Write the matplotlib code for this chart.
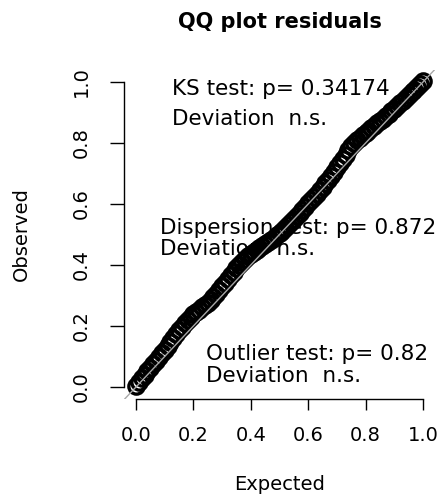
import matplotlib
matplotlib.use("Agg")
import matplotlib.pyplot as plt

plt.rcParams['font.family'] = ['DejaVu Sans']

# Expected uniform quantiles and observed scaled residual quantiles
expected = [i / 100 for i in range(101)]
observed = [
    0.004, 0.016, 0.028, 0.039, 0.051, 0.062, 0.074, 0.086, 0.098, 0.110,
    0.122, 0.135, 0.148, 0.161, 0.174, 0.186, 0.198, 0.210, 0.221, 0.230,
    0.238, 0.246, 0.254, 0.261, 0.268, 0.276, 0.285, 0.295, 0.306, 0.318,
    0.330, 0.342, 0.354, 0.366, 0.378, 0.390, 0.401, 0.411, 0.420, 0.428,
    0.435, 0.442, 0.448, 0.455, 0.462, 0.469, 0.476, 0.483, 0.490, 0.497,
    0.505, 0.513, 0.522, 0.531, 0.540, 0.550, 0.560, 0.570, 0.581, 0.591,
    0.602, 0.612, 0.623, 0.634, 0.645, 0.656, 0.668, 0.680, 0.693, 0.706,
    0.720, 0.734, 0.748, 0.762, 0.776, 0.789, 0.801, 0.810, 0.818, 0.825,
    0.832, 0.840, 0.848, 0.856, 0.864, 0.872, 0.880, 0.888, 0.896, 0.904,
    0.912, 0.921, 0.930, 0.939, 0.948, 0.957, 0.966, 0.975, 0.984, 0.993,
    1.002,
]
tick_values = [0.0, 0.2, 0.4, 0.6, 0.8, 1.0]
tick_labels = ["0.0", "0.2", "0.4", "0.6", "0.8", "1.0"]

title = "QQ plot residuals"
annotations = [
    (0.125, 0.977, "KS test: p= 0.34174"),
    (0.125, 0.879, "Deviation  n.s."),
    (0.084, 0.521, "Dispersion test: p= 0.872"),
    (0.084, 0.452, "Deviation  n.s."),
    (0.244, 0.108, "Outlier test: p= 0.82"),
    (0.244, 0.036, "Deviation  n.s."),
]

W, H = 443, 495
fig = plt.figure(figsize=(W / 100, H / 100), dpi=100)
left, right, top, bottom = 124.5, 434.5, 69.8, 399.2
ax = fig.add_axes([left / W, 1 - bottom / H, (right - left) / W, (bottom - top) / H])
ax.set_xlim(-0.04, 1.04)
ax.set_ylim(-0.04, 1.04)

for x, y, s in annotations:
    ax.text(x, y, s, fontsize=15.5, ha='left', va='center', color='black', zorder=1)

ax.plot(expected, observed, linestyle='none', marker='o', markersize=11,
        markerfacecolor='none', markeredgecolor='black', markeredgewidth=2.4, zorder=2)
ax.axline((0, 0), (1, 1), color='#a8a8a8', linewidth=1.0, zorder=3)

for side in ['top', 'right']:
    ax.spines[side].set_visible(False)
ax.spines['left'].set_bounds(0, 1)
ax.spines['bottom'].set_bounds(0, 1)
ax.spines['bottom'].set_position(('data', -0.04))
for side in ['left', 'bottom']:
    ax.spines[side].set_linewidth(1.0)

ax.set_xticks(tick_values, tick_labels)
ax.set_yticks(tick_values, tick_labels)
ax.tick_params(axis='x', direction='out', length=8, width=1.0, pad=11, labelsize=14)
ax.tick_params(axis='y', direction='out', length=10, width=1.0, pad=14, labelsize=14,
               labelrotation=90)
for lab in ax.get_yticklabels():
    lab.set_va('center')

ax.set_xlabel("Expected", fontsize=14, labelpad=22)
ax.set_ylabel("Observed", fontsize=14, labelpad=30)

fig.text(279.5 / W, 1 - 22 / H, title, fontsize=15, fontweight='bold',
         ha='center', va='center')

fig.savefig("out.png", dpi=100)
